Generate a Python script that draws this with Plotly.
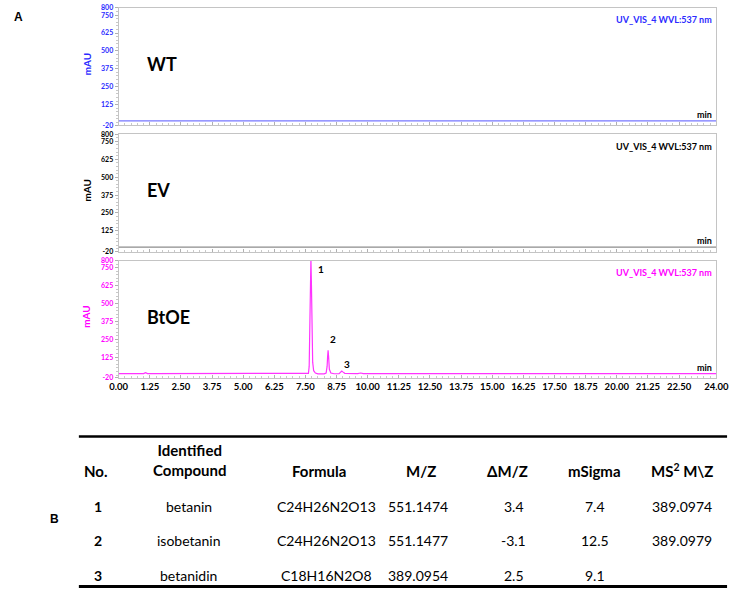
import plotly.graph_objects as go

# ---------------- data ----------------
panel_names = ["WT", "EV", "BtOE"]
panel_colors = ["#2b2bff", "#000000", "#ff00ff"]
line_colors = ["#7777ff", "#8c8c8c", "#ff33ff"]
detector_label = "UV_VIS_4 WVL:537 nm"

time_wt = [0.0, 2.0, 3.5, 6.0, 10.0, 16.0, 24.0]
mau_wt = [11, 11, 12, 11, 11, 11, 11]

time_ev = [0.0, 1.0, 1.08, 1.16, 1.3, 8.0, 24.0]
mau_ev = [11, 11, 15, 11, 11, 11, 11]

time_btoe = [0.0, 1.0, 1.08, 1.16, 1.3, 7.55, 7.62, 7.65, 7.68, 7.70, 7.72, 7.74, 7.76,
             7.79, 7.83, 7.90, 8.0, 8.25, 8.33, 8.37, 8.39, 8.41, 8.43, 8.46, 8.52,
             8.65, 8.85, 8.92, 8.96, 9.00, 9.08, 9.6, 9.72, 9.82, 11.0, 24.0]
mau_btoe = [10, 10, 16, 10, 10, 10, 12, 60, 320, 700, 820, 640, 300,
            90, 30, 14, 8, 8, 14, 60, 130, 172, 130, 40, 14,
            9, 10, 22, 28, 22, 12, 10, 14, 10, 10, 10]

y_tick_vals = [-20, 125, 250, 375, 500, 625, 750, 800]
y_tick_text = ["-20", "125", "250", "375", "500", "625", "750", "800"]
x_tick_vals = [0, 1.25, 2.5, 3.75, 5, 6.25, 7.5, 8.75, 10, 11.25, 12.5, 13.75, 15,
               16.25, 17.5, 18.75, 20, 21.25, 22.5, 24]
x_tick_text = ["0.00", "1.25", "2.50", "3.75", "5.00", "6.25", "7.50", "8.75", "10.00",
               "11.25", "12.50", "13.75", "15.00", "16.25", "17.50", "18.75", "20.00",
               "21.25", "22.50", "24.00"]

peak_labels = ["1", "2", "3"]
peak_label_x = [7.93, 8.41, 8.98]
peak_label_y = [738, 249, 76]

table_header = ["No.", "Identified<br>Compound", "Formula", "M/Z", "ΔM/Z", "mSigma", "MS<sup>2</sup> M\\Z"]
col_no = ["1", "2", "3"]
col_compound = ["betanin", "isobetanin", "betanidin"]
col_formula = ["C24H26N2O13", "C24H26N2O13", "C18H16N2O8"]
col_mz = ["551.1474", "551.1477", "389.0954"]
col_dmz = ["3.4", "-3.1", "2.5"]
col_msigma = ["7.4", "12.5", "9.1"]
col_ms2 = ["389.0974", "389.0979", ""]

# ---------------- layout helpers ----------------
W, H = 742, 592
FONT = "Lato"


def px(x, y):
    return x / W, 1 - y / H


def note(xp, yp, text, size, color="black", weight="bold", xanchor="center", family=FONT, **kw):
    x, y = px(xp, yp)
    return dict(x=x, y=y, xref="paper", yref="paper", text=text, showarrow=False,
                xanchor=xanchor, yanchor="middle",
                font=dict(family=family, size=size, color=color, weight=weight), **kw)


xd = [113 / W, 729 / W]
panel_px = [(3, 122), (131, 250), (259, 378)]

fig = go.Figure()
traces = [(time_wt, mau_wt), (time_ev, mau_ev), (time_btoe, mau_btoe)]
for i, (t, v) in enumerate(traces):
    suffix = "" if i == 0 else str(i + 1)
    fig.add_trace(go.Scatter(x=t, y=v, mode="lines",
                             line=dict(color=line_colors[i], width=1.2),
                             xaxis="x" + suffix, yaxis="y" + suffix,
                             hoverinfo="skip"))

layout = dict(width=W, height=H, margin=dict(l=0, r=0, t=0, b=0),
              paper_bgcolor="white", plot_bgcolor="white", showlegend=False,
              font=dict(family=FONT, color="black"))
annotations = []
for i in range(3):
    suffix = "" if i == 0 else str(i + 1)
    top, bot = panel_px[i]
    layout["xaxis" + suffix] = dict(
        domain=xd, range=[0, 24], anchor="y" + suffix,
        showline=True, mirror=True, linecolor="#c4c4c4", linewidth=1,
        showgrid=False, zeroline=False,
        tickvals=x_tick_vals, ticktext=x_tick_text,
        showticklabels=(i == 2), ticklabeloverflow="allow",
        ticks="inside", ticklen=3, tickcolor="#b0b0b0",
        minor=dict(dtick=0.25, ticks="inside", ticklen=2, tickcolor="#c8c8c8"),
        tickfont=dict(family=FONT, size=9.5, color="black", weight="bold"),
    )
    layout["yaxis" + suffix] = dict(
        domain=[1 - bot / H, 1 - top / H], range=[-20, 800], anchor="x" + suffix,
        showline=True, mirror=True, linecolor="#c4c4c4", linewidth=1,
        showgrid=False, zeroline=False,
        tickvals=y_tick_vals, ticktext=y_tick_text,
        ticks="outside", ticklen=3, tickcolor="#b0b0b0",
        minor=dict(dtick=25, ticks="outside", ticklen=2, tickcolor="#c8c8c8"),
        tickfont=dict(family=FONT, size=7, color=panel_colors[i], weight="bold"),
    )
    annotations.append(note(80, (top + bot) / 2 - 3, "mAU", 10, panel_colors[i], textangle=-90))
    annotations.append(note(140, top + 57, panel_names[i], 18, xanchor="left"))
    annotations.append(note(727, top + 12, detector_label, 9, panel_colors[i], xanchor="right"))
    annotations.append(note(727, bot - 11, "min", 9, xanchor="right"))

for lab, lx, ly in zip(peak_labels, peak_label_x, peak_label_y):
    annotations.append(dict(x=lx, y=ly, xref="x3", yref="y3", text=lab, showarrow=False,
                            xanchor="left", yanchor="middle",
                            font=dict(family=FONT, size=10, color="black", weight="bold")))

annotations.append(note(10, 12, "A", 12, family="Liberation Sans"))
annotations.append(note(47, 521, "B", 12, family="Liberation Sans"))

# table
header_x = [90, 187, 319, 425, 514, 603, 694]
cell_x = [92, 185, 327, 422, 520, 604, 694]
row_y = [508, 543, 578]
for j, h in enumerate(table_header):
    yy = 461 if j == 1 else 472
    annotations.append(note(header_x[j], yy, h, 15, align="center"))
columns = [col_no, col_compound, col_formula, col_mz, col_dmz, col_msigma, col_ms2]
for j, col in enumerate(columns):
    for r, val in enumerate(col):
        if val:
            annotations.append(note(cell_x[j], row_y[r], val, 14,
                                    weight="bold" if j == 0 else "normal"))

shapes = []
for ly, lw in [(437.5, 2.5), (589.5, 3)]:
    x0, y0 = px(72, ly)
    x1, _ = px(740, ly)
    shapes.append(dict(type="line", xref="paper", yref="paper", x0=x0, x1=x1, y0=y0, y1=y0,
                       line=dict(color="black", width=lw)))

layout["annotations"] = annotations
layout["shapes"] = shapes
fig.update_layout(**layout)
fig.write_html("out.html")
